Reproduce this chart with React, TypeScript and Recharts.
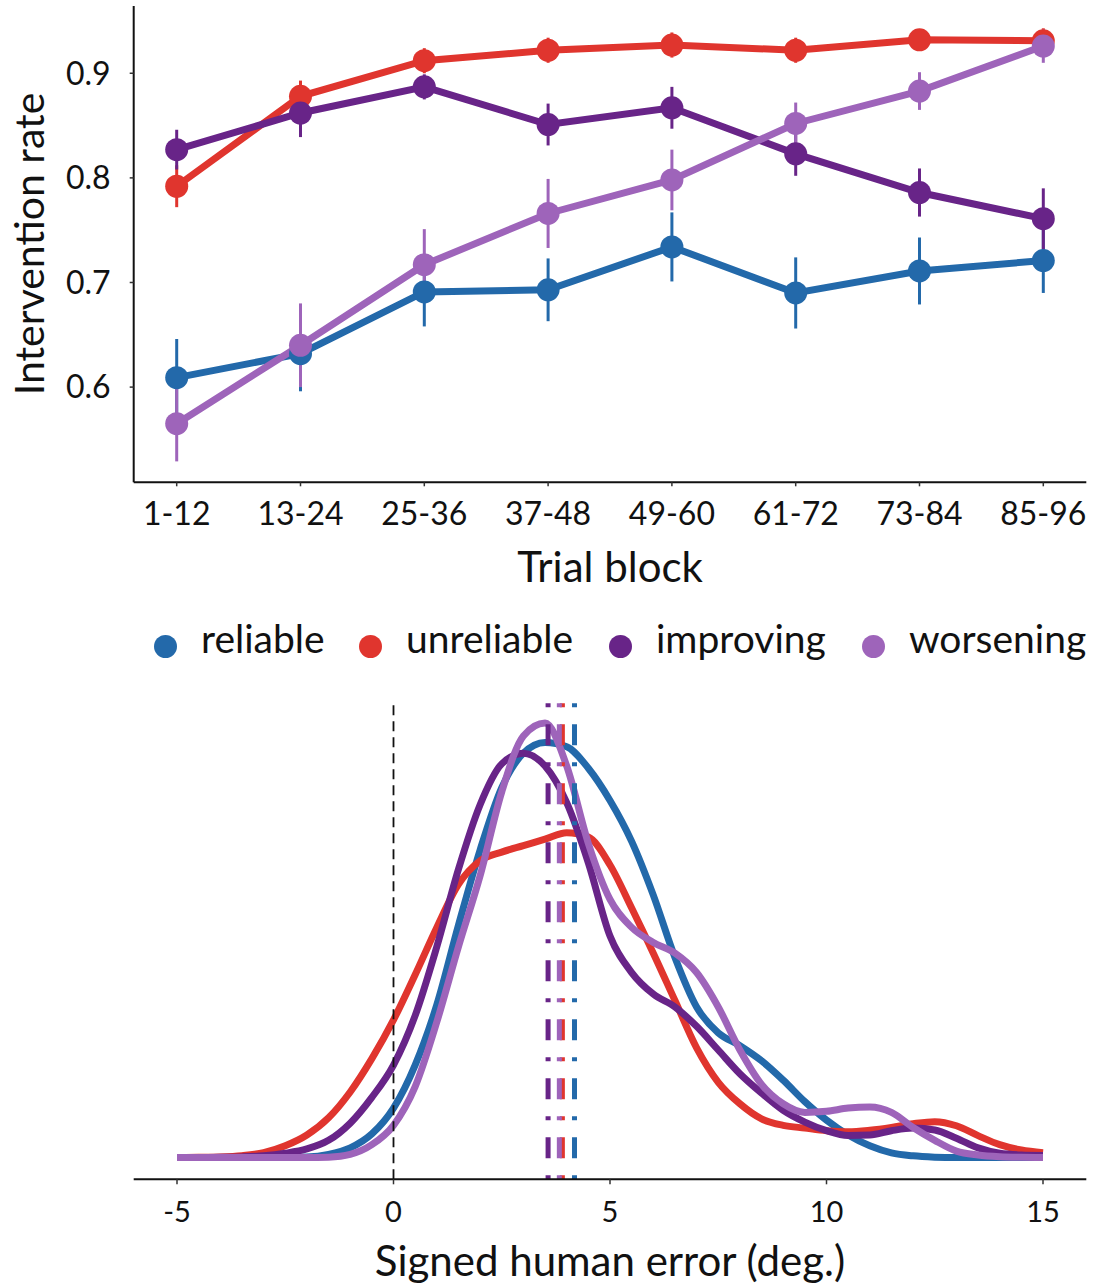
import { ErrorBar, Line, LineChart, ReferenceLine, XAxis, YAxis } from "recharts";

const FONT = "Lato, 'Open Sans', sans-serif";

const GROUPS = ["reliable", "unreliable", "improving", "worsening"] as const;
const COLORS: Record<string, string> = {
  reliable: "#2369aa",
  unreliable: "#e0352e",
  improving: "#682488",
  worsening: "#9e64ba",
};

// intervention rate per trial block (mean and error half-width)
const blocks = ["1-12", "13-24", "25-36", "37-48", "49-60", "61-72", "73-84", "85-96"];
const reliable = [0.609, 0.632, 0.691, 0.693, 0.734, 0.69, 0.711, 0.721];
const reliableErr = [0.037, 0.036, 0.033, 0.03, 0.033, 0.034, 0.032, 0.031];
const unreliable = [0.792, 0.878, 0.912, 0.922, 0.927, 0.922, 0.932, 0.931];
const unreliableErr = [0.02, 0.015, 0.012, 0.012, 0.012, 0.012, 0.01, 0.012];
const improving = [0.827, 0.862, 0.887, 0.851, 0.867, 0.823, 0.786, 0.761];
const improvingErr = [0.019, 0.023, 0.012, 0.02, 0.02, 0.021, 0.023, 0.029];
const worsening = [0.565, 0.64, 0.717, 0.766, 0.798, 0.852, 0.883, 0.926];
const worseningErr = [0.036, 0.04, 0.034, 0.033, 0.029, 0.02, 0.018, 0.016];
const rateTicks = [0.6, 0.7, 0.8, 0.9];

// density of signed error, sampled every 0.5 deg from -5 to 15
const errX = [
  -5, -4.5, -4, -3.5, -3, -2.5, -2, -1.5, -1, -0.5, 0, 0.5, 1, 1.5, 2, 2.5, 3, 3.5, 4, 4.5, 5, 5.5,
  6, 6.5, 7, 7.5, 8, 8.5, 9, 9.5, 10, 10.5, 11, 11.5, 12, 12.5, 13, 13.5, 14, 14.5, 15,
];
const densReliable = [
  0, 0, 0, 0, 0, 0.0001, 0.0003, 0.0015, 0.0045, 0.011, 0.023, 0.043, 0.071, 0.108, 0.143, 0.172,
  0.188, 0.193, 0.191, 0.181, 0.166, 0.147, 0.122, 0.093, 0.07, 0.058, 0.052, 0.045, 0.036, 0.026,
  0.0174, 0.0105, 0.0055, 0.0022, 0.0008, 0.0002, 0, 0, 0, 0, 0,
];
const densUnreliable = [
  0, 0.0001, 0.0003, 0.0009, 0.0023, 0.0055, 0.0105, 0.0185, 0.0305, 0.046, 0.064, 0.085, 0.107,
  0.127, 0.138, 0.142, 0.145, 0.148, 0.151, 0.149, 0.136, 0.116, 0.095, 0.073, 0.051, 0.035, 0.025,
  0.018, 0.015, 0.0137, 0.0125, 0.012, 0.0127, 0.014, 0.0157, 0.0167, 0.0148, 0.0102, 0.006, 0.0035,
  0.0022,
];
const densImproving = [
  0, 0, 0.0001, 0.0003, 0.0008, 0.002, 0.004, 0.008, 0.016, 0.028, 0.043, 0.066, 0.098, 0.134,
  0.164, 0.183, 0.188, 0.182, 0.165, 0.137, 0.103, 0.086, 0.076, 0.07, 0.061, 0.05, 0.039, 0.03,
  0.022, 0.0165, 0.0125, 0.0103, 0.0105, 0.0125, 0.0137, 0.0128, 0.009, 0.0045, 0.002, 0.0012, 0.001,
];
const densWorsening = [
  0, 0, 0, 0, 0, 0, 0, 0.0002, 0.0015, 0.006, 0.015, 0.033, 0.063, 0.098, 0.131, 0.17, 0.196, 0.202,
  0.182, 0.146, 0.12, 0.107, 0.1, 0.095, 0.086, 0.07, 0.05, 0.034, 0.025, 0.021, 0.0215, 0.023,
  0.0235, 0.021, 0.014, 0.008, 0.003, 0.0012, 0.0004, 0.0001, 0,
];
const errMeans = { reliable: 4.18, unreliable: 3.9, improving: 3.57, worsening: 3.83 };
const errTicks = [-5, 0, 5, 10, 15];

const rateRows = blocks.map((block, i) => ({
  block,
  reliable: reliable[i],
  reliableErr: reliableErr[i],
  unreliable: unreliable[i],
  unreliableErr: unreliableErr[i],
  improving: improving[i],
  improvingErr: improvingErr[i],
  worsening: worsening[i],
  worseningErr: worseningErr[i],
}));

const densRows = errX.map((x, i) => ({
  x,
  reliable: densReliable[i],
  unreliable: densUnreliable[i],
  improving: densImproving[i],
  worsening: densWorsening[i],
}));

const axisLine = { stroke: "#111", strokeWidth: 2 };
const tickLine = { stroke: "#333", strokeWidth: 1.5 };
const titleStyle: React.CSSProperties = {
  position: "absolute",
  fontSize: 42,
  fontFamily: FONT,
  color: "#111",
  whiteSpace: "nowrap",
  lineHeight: 1,
};

function RateChart() {
  const tick = { fontSize: 32, fill: "#111", fontFamily: FONT };
  return (
    <LineChart
      width={1094}
      height={600}
      data={rateRows}
      margin={{ top: 6, right: 7.7, bottom: 0, left: 0 }}
    >
      <XAxis
        dataKey="block"
        type="category"
        scale="point"
        padding={{ left: 43, right: 43 }}
        height={117.7}
        axisLine={axisLine}
        tickLine={tickLine}
        tickSize={4}
        tickMargin={16}
        tick={tick}
        interval={0}
      />
      <YAxis
        width={133.7}
        domain={[0.509, 0.9643]}
        ticks={rateTicks}
        allowDataOverflow
        axisLine={axisLine}
        tickLine={tickLine}
        tickSize={4}
        tickMargin={19}
        tick={tick}
      />
      {GROUPS.map((g) => (
        <Line
          key={g}
          dataKey={g}
          stroke={COLORS[g]}
          strokeWidth={7}
          dot={{ r: 11.5, fill: COLORS[g], stroke: "none" }}
          activeDot={false}
          isAnimationActive={false}
        >
          <ErrorBar
            dataKey={`${g}Err`}
            direction="y"
            width={0}
            stroke={COLORS[g]}
            strokeWidth={3}
            isAnimationActive={false}
          />
        </Line>
      ))}
    </LineChart>
  );
}

function ErrorDensityChart() {
  const tick = { fontSize: 29, fill: "#111", fontFamily: FONT };
  return (
    <LineChart
      width={1094}
      height={687}
      data={densRows}
      margin={{ top: 100, right: 7.7, bottom: 0, left: 133.7 }}
    >
      <XAxis
        dataKey="x"
        type="number"
        domain={[-6, 16]}
        ticks={errTicks}
        allowDataOverflow
        height={107.7}
        axisLine={axisLine}
        tickLine={tickLine}
        tickSize={5}
        tickMargin={17}
        tick={tick}
        interval={0}
      />
      <YAxis hide domain={[-0.0101, 0.2127]} allowDataOverflow />
      {GROUPS.map((g) => (
        <Line
          key={g}
          dataKey={g}
          type="monotone"
          stroke={COLORS[g]}
          strokeWidth={7}
          dot={false}
          activeDot={false}
          isAnimationActive={false}
        />
      ))}
      <ReferenceLine x={0} stroke="#111" strokeWidth={1.8} strokeDasharray="10 6" />
      {GROUPS.map((g) => (
        <ReferenceLine
          key={`mean-${g}`}
          x={errMeans[g]}
          stroke={COLORS[g]}
          strokeWidth={5}
          strokeDasharray="4 17 21 17"
        />
      ))}
    </LineChart>
  );
}

function Legend() {
  const dotX = [165.6, 370, 620, 873];
  const textX = [201, 406, 656, 909];
  return (
    <>
      {GROUPS.map((g, i) => (
        <div key={g}>
          <div
            style={{
              position: "absolute",
              left: dotX[i] - 11.5,
              top: 646.7 - 11.5,
              width: 23,
              height: 23,
              borderRadius: "50%",
              background: COLORS[g],
            }}
          />
          <div style={{ ...titleStyle, fontSize: 39, left: textX[i], top: 618.5 }}>{g}</div>
        </div>
      ))}
    </>
  );
}

export default function App() {
  return (
    <div
      style={{
        position: "absolute",
        left: 0,
        top: 0,
        width: 1094,
        height: 1287,
        background: "#fff",
        fontFamily: FONT,
        overflow: "hidden",
      }}
    >
      <div style={{ position: "absolute", left: 0, top: 0 }}>
        <RateChart />
      </div>
      <div style={{ position: "absolute", left: 0, top: 600 }}>
        <ErrorDensityChart />
      </div>
      <div
        style={{
          ...titleStyle,
          fontSize: 41,
          left: 28,
          top: 244,
          transform: "translate(-50%, -50%) rotate(-90deg)",
        }}
      >
        Intervention rate
      </div>
      <div style={{ ...titleStyle, left: 610, top: 545, transform: "translateX(-50%)" }}>
        Trial block
      </div>
      <div style={{ ...titleStyle, left: 610, top: 1239, transform: "translateX(-50%)" }}>
        Signed human error (deg.)
      </div>
      <Legend />
    </div>
  );
}
